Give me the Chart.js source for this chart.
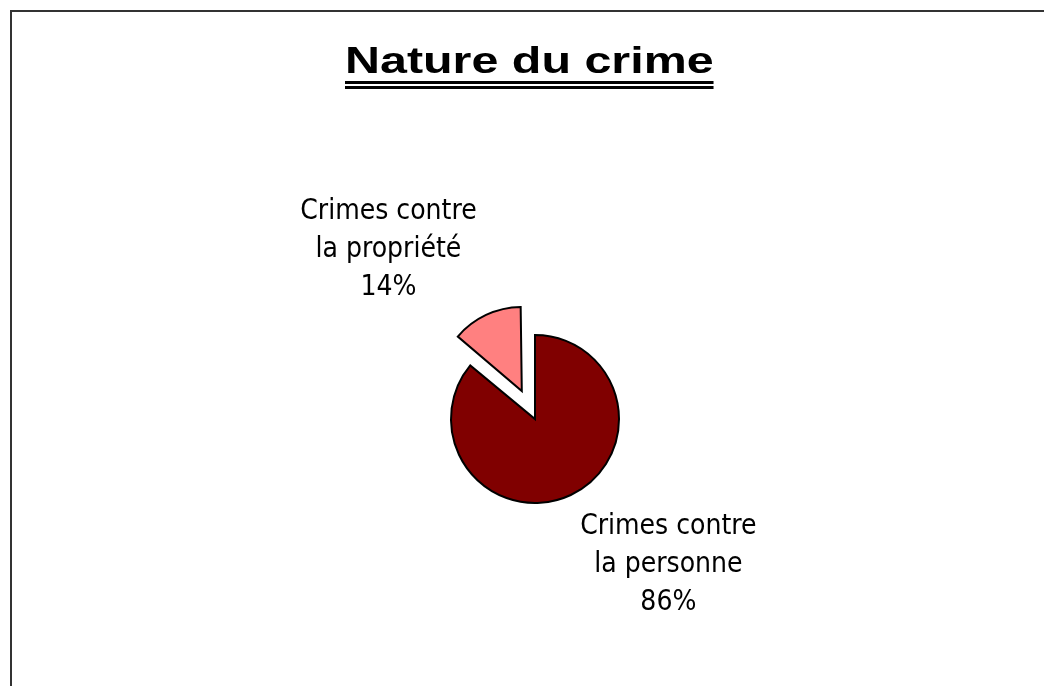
<!DOCTYPE html>
<html>
<head>
<meta charset="utf-8">
<script src="https://cdn.jsdelivr.net/npm/chart.js@4/dist/chart.umd.min.js"></script>
<style>
	html, body { margin: 0; padding: 0; background: #fff; }
	body { width: 1044px; height: 686px; position: relative; overflow: hidden; }
	#frame {
		position: absolute; left: 10px; top: 10px; width: 1100px; height: 700px;
		border-top: 2px solid #333; border-left: 2px solid #333;
	}
	#title {
		position: absolute; left: 345px; top: 43px;
		font: bold 36px "Liberation Sans", Arial, sans-serif;
		line-height: 36px; padding-bottom: 2px;
		border-bottom: 8px double #000;
		transform: scaleX(1.345); transform-origin: left top;
		white-space: nowrap; color: #000;
	}
	#chart { position: absolute; left: 0; top: 0; }
</style>
</head>
<body>
<div id="frame"></div>
<canvas id="chart" width="1044" height="686"></canvas>
<div id="title">Nature du crime</div>
<script>
const categories = ["Crimes contre la personne", "Crimes contre la propriété"];
const labelLines = [["Crimes contre", "la personne"], ["Crimes contre", "la propriété"]];
const values = [86, 14];

const sliceColors = ["#800000", "#FF8080"];

// how much Chart.js grows an offset arc when drawing it
function radiusGrowth(arc) {
	const off = (arc.options.offset || 0) / 4;
	return off * (1 - Math.sin(Math.min(Math.PI, arc.circumference || 0)));
}

// Chart.js moves an offset arc by offset/4 and grows its radius a bit; undo the growth
const keepRadius = {
	id: "keepRadius",
	afterDatasetUpdate(chart, args) {
		for (const arc of args.meta.data) {
			arc.outerRadius -= radiusGrowth(arc);
		}
	},
};

// outside-end labels in the Excel style
const sliceLabels = {
	id: "sliceLabels",
	afterDatasetsDraw(chart) {
		const ctx = chart.ctx;
		const meta = chart.getDatasetMeta(0);
		const total = values.reduce((a, b) => a + b, 0);
		const capH = 19.5;
		const lineH = 38;
		ctx.save();
		ctx.font = '28px "DejaVu Sans Condensed", "DejaVu Sans"';
		ctx.fillStyle = "#000";
		ctx.textAlign = "center";
		ctx.textBaseline = "alphabetic";
		meta.data.forEach((arc, i) => {
			const mid = (arc.startAngle + arc.endAngle) / 2;
			const off = (arc.options.offset || 0) / 4;
			const r = arc.outerRadius + radiusGrowth(arc);
			const dx = Math.cos(mid);
			const dy = Math.sin(mid);
			const cx = arc.x + dx * off;
			const cy = arc.y + dy * off;
			const px = cx + dx * (r + 22);
			const py = cy + dy * (r + 22);
			const lines = labelLines[i].concat(Math.round((values[i] / total) * 100) + "%");
			const w = Math.max(...lines.map((l) => ctx.measureText(l).width));
			const boxH = capH + lineH * (lines.length - 1);
			const left = dx < 0 ? px - w : px;
			const top = dy < 0 ? py - boxH : py;
			lines.forEach((line, j) => {
				ctx.fillText(line, left + w / 2, top + capH + j * lineH);
			});
		});
		ctx.restore();
	},
};

const ctx = document.getElementById("chart").getContext("2d");
const chart = new Chart(ctx, {
	type: "pie",
	data: {
		labels: categories,
		datasets: [
			{
				data: values,
				backgroundColor: sliceColors,
				borderColor: "#000",
				borderWidth: 2,
				borderJoinStyle: "miter",
				offset: [0, 124],
			},
		],
	},
	options: {
		responsive: false,
		animation: false,
		radius: 84,
		layout: { padding: { left: 26, right: 0, top: 152, bottom: 0 } },
		plugins: {
			legend: { display: false },
			tooltip: { enabled: false },
			title: { display: false },
		},
	},
	plugins: [keepRadius, sliceLabels],
});
</script>
</body>
</html>
